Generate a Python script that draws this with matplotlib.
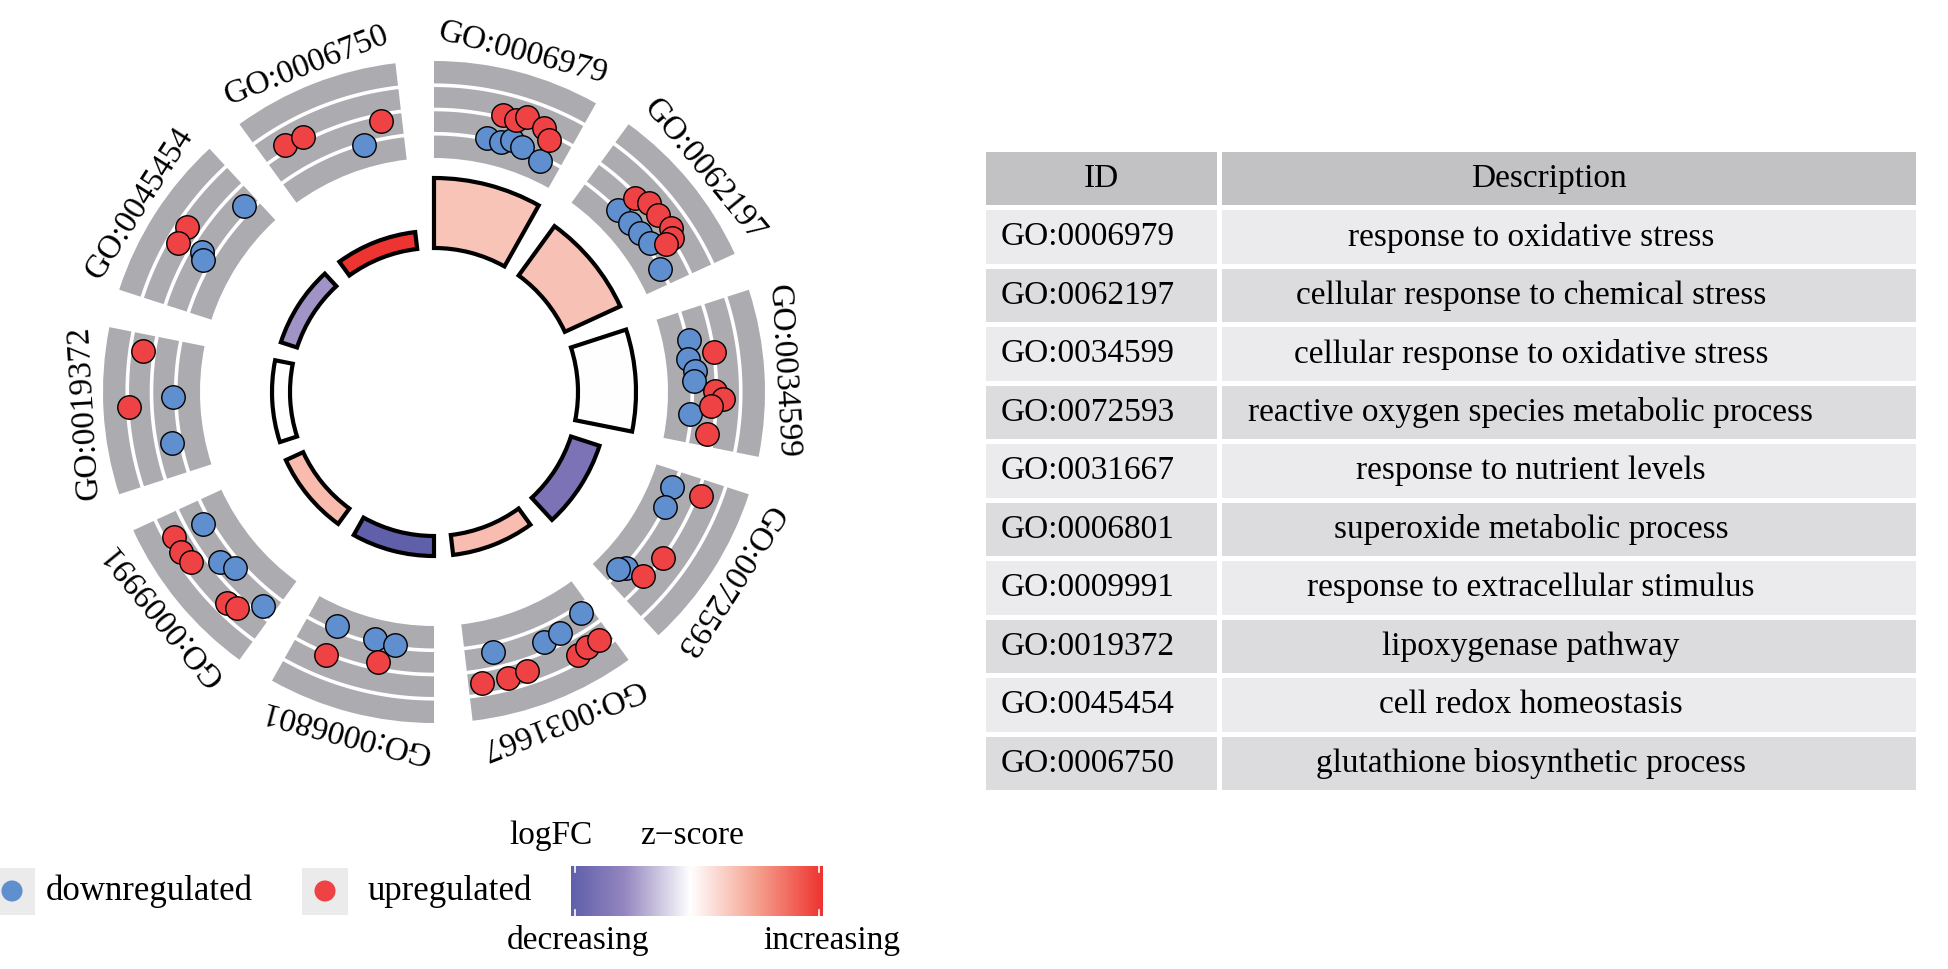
import numpy as np
import matplotlib
matplotlib.use("Agg")
import matplotlib.pyplot as plt
from matplotlib.colors import LinearSegmentedColormap, Normalize
from matplotlib.patches import Rectangle

plt.rcParams['font.family'] = ['Liberation Serif', 'DejaVu Serif']

# ---- data ----
go_ids = ["GO:0006979", "GO:0062197", "GO:0034599", "GO:0072593", "GO:0031667",
          "GO:0006801", "GO:0009991", "GO:0019372", "GO:0045454", "GO:0006750"]
descriptions = ["response to oxidative stress",
                "cellular response to chemical stress",
                "cellular response to oxidative stress",
                "reactive oxygen species metabolic process",
                "response to nutrient levels",
                "superoxide metabolic process",
                "response to extracellular stimulus",
                "lipoxygenase pathway",
                "cell redox homeostasis",
                "glutathione biosynthetic process"]
neg_log_padj = [14.0, 12.2, 11.6, 6.0, 4.0, 4.0, 3.8, 3.6, 3.4, 3.4]
zscore = [0.63, 0.67, 0.0, -1.38, 0.71, -1.8, 0.73, 0.0, -0.88, 2.0]

# genes of each term: relative position inside the term and logFC
up_pos = [[0.48, 0.57, 0.64, 0.77, 0.84],
          [0.34, 0.43, 0.54, 0.66, 0.72, 0.73],
          [0.34, 0.61, 0.66, 0.71, 0.91],
          [0.11, 0.61, 0.80],
          [0.91, 0.73, 0.60, 0.25, 0.17, 0.08],
          [0.76, 0.40],
          [0.85, 0.74, 0.65, 0.29, 0.22],
          [0.89, 0.52],
          [0.54, 0.42],
          [0.17, 0.30, 0.85]]
up_fc = [[0.66, 0.59, 0.97, 0.72, 0.15],
         [0.28, 0.72, 0.69, 0.85, 0.59, 0.03],
         [0.53, 0.40, 0.91, 0.21, 0.09],
         [0.75, 0.53, 0.25],
         [1.29, 1.29, 1.23, 1.60, 1.42, 1.48],
         [0.59, 0.09],
         [1.42, 1.51, 1.35, 1.29, 1.10],
         [1.23, 1.92],
         [1.38, 1.35],
         [0.88, 0.78, 0.09]]
down_pos = [[0.40, 0.51, 0.59, 0.67, 0.84],
            [0.32, 0.45, 0.56, 0.66, 0.87],
            [0.22, 0.36, 0.46, 0.53, 0.78],
            [0.13, 0.29, 0.84, 0.88],
            [0.79, 0.42, 0.29, 0.08],
            [0.77, 0.46, 0.30],
            [0.83, 0.53, 0.43, 0.09],
            [0.58, 0.24],
            [0.90, 0.45, 0.40],
            [0.69]]
down_fc = [[-0.92, -0.99, -0.67, -0.86, -1.24],
           [-0.99, -0.99, -0.86, -0.73, -1.05],
           [-0.86, -1.11, -0.80, -0.86, -1.11],
           [-1.11, -0.99, -0.86, -1.17],
           [-0.48, -0.07, -0.16, -0.54],
           [-1.30, -1.24, -1.17],
           [-0.54, -0.10, -0.54, -0.04],
           [-0.80, -0.48],
           [-0.54, -0.23, -0.54],
           [-1.11]]

# ---- style / layout ----
W, H = 1949, 969
CX, CY = 434, 392          # circle centre in pixels (from top-left)
R_AX = 400                 # polar axes radius in data units == pixels
BAR_BOTTOM = 144
BAR_SCALE = 5.0
RING_IN, RING_OUT = 234, 331
FC_MIN, FC_MAX = -2.5, 3.5
LABEL_R = 350
SEG_STEP = 36.0
SEG_WIDTH = 29.3
BLUE = '#5F8FCF'
RED = '#EE4245'
GREY = '#ABABB0'

zcmap = LinearSegmentedColormap.from_list(
    'zsc', [(0, '#5356A5'), (0.25, '#9486C0'), (0.5, '#FFFFFF'),
            (0.75, '#F5A290'), (1.0, '#EE3430')])
zlim = max(abs(min(zscore)), abs(max(zscore)))
znorm = Normalize(-zlim, zlim)

fig = plt.figure(figsize=(W / 100, H / 100), dpi=100)

ax = fig.add_axes([(CX - R_AX) / W, (H - CY - R_AX) / H, 2 * R_AX / W, 2 * R_AX / H],
                  projection='polar')
ax.set_theta_zero_location('N')
ax.set_theta_direction(-1)
ax.set_ylim(0, R_AX)
ax.set_axis_off()

n = len(go_ids)
starts = np.deg2rad(np.arange(n) * SEG_STEP)
width = np.deg2rad(SEG_WIDTH)
centers = starts + width / 2


def fc_to_r(fc):
    return RING_IN + (np.asarray(fc) - FC_MIN) / (FC_MAX - FC_MIN) * (RING_OUT - RING_IN)


# inner ring: significance bars coloured by z-score
heights = np.array(neg_log_padj) * BAR_SCALE
ax.bar(centers, heights, width=width, bottom=BAR_BOTTOM,
       color=zcmap(znorm(zscore)), edgecolor='black', linewidth=3, zorder=2)

# outer ring: grey track with white grid lines
ax.bar(centers, RING_OUT - RING_IN, width=width, bottom=RING_IN,
       color=GREY, edgecolor='none', zorder=2)
band = (RING_OUT - RING_IN) / 4
for i in range(n):
    th = np.linspace(starts[i], starts[i] + width, 60)
    for k in (1, 2, 3):
        ax.plot(th, np.full_like(th, RING_IN + k * band), color='white', lw=2.6, zorder=3)

# genes
for i in range(n):
    th_d = starts[i] + np.array(down_pos[i]) * width
    ax.scatter(th_d, fc_to_r(down_fc[i]), s=285, color=BLUE, edgecolor='black',
               linewidth=1.0, zorder=4)
    th_u = starts[i] + np.array(up_pos[i]) * width
    ax.scatter(th_u, fc_to_r(up_fc[i]), s=285, color=RED, edgecolor='black',
               linewidth=1.0, zorder=4)

# term labels
for i in range(n):
    ax.text(centers[i], LABEL_R, go_ids[i], rotation=-np.rad2deg(centers[i]),
            rotation_mode='anchor', ha='center', va='center', fontsize=24,
            clip_on=False)

# ---- table ----
TX0, TY0, TW, TH = 986, 152, 930, 643
tab = fig.add_axes([TX0 / W, (H - TY0 - TH) / H, TW / W, TH / H])
tab.set_xlim(0, TW)
tab.set_ylim(TH, 0)
tab.set_axis_off()
pitch = TH / (n + 1)
cell_h = pitch - 5
col_split = 231
gap = 5
header = ["ID", "Description"]
rows = [header] + [[g, d] for g, d in zip(go_ids, descriptions)]
for r, (c1, c2) in enumerate(rows):
    y = r * pitch
    if r == 0:
        fc = '#C2C2C5'
    elif r % 2 == 1:
        fc = '#EBEBED'
    else:
        fc = '#DCDCDF'
    tab.add_patch(Rectangle((0, y), col_split, cell_h, facecolor=fc, edgecolor='none'))
    tab.add_patch(Rectangle((col_split + gap, y), TW - col_split - gap, cell_h,
                            facecolor=fc, edgecolor='none'))
    yc = y + cell_h / 2
    if r == 0:
        tab.text(col_split / 2, yc, c1, ha='center', va='center', fontsize=24)
        tab.text(563, yc, c2, ha='center', va='center', fontsize=24)
    else:
        tab.text(15, yc, c1, ha='left', va='center', fontsize=24)
        tab.text(545, yc, c2, ha='center', va='center', fontsize=24)

# ---- legends ----
leg = fig.add_axes([0, 0, 1, 1])
leg.set_xlim(0, W)
leg.set_ylim(H, 0)
leg.set_axis_off()
leg.patch.set_alpha(0)

leg.text(551, 836, "logFC", ha='center', va='center', fontsize=24)
key_labels = ["downregulated", "upregulated"]
key_colors = [BLUE, RED]
key_x = [12, 325]
key_text_x = [46, 368]
for kx, tx, lab, col in zip(key_x, key_text_x, key_labels, key_colors):
    leg.add_patch(Rectangle((kx - 23, 868), 46, 47, facecolor='#EBEBEB', edgecolor='none'))
    leg.scatter([kx], [891], s=230, color=col, edgecolor='none', zorder=3)
    leg.text(tx, 891, lab, ha='left', va='center', fontsize=25)

leg.text(692, 836, "z\u2212score", ha='center', va='center', fontsize=24)
grad = np.linspace(min(zscore), max(zscore), 400).reshape(1, -1)
leg.imshow(grad, cmap=zcmap, norm=znorm, extent=(571, 823, 916, 866),
           aspect='auto', interpolation='bilinear')
for tx in (575, 819):
    leg.plot([tx, tx], [866, 872], color='white', lw=1.2)
    leg.plot([tx, tx], [910, 916], color='white', lw=1.2)
leg.text(578, 941, "decreasing", ha='center', va='center', fontsize=24)
leg.text(832, 941, "increasing", ha='center', va='center', fontsize=24)
leg.set_xlim(0, W)
leg.set_ylim(H, 0)

fig.savefig("out.png", dpi=100)
